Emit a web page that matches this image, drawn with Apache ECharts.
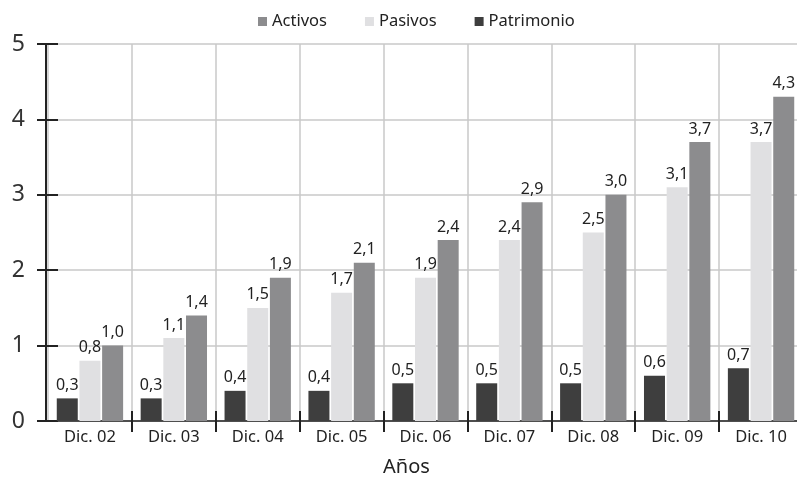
<!DOCTYPE html>
<html><head><meta charset="utf-8">
<script src="https://cdn.jsdelivr.net/npm/echarts@6/dist/echarts.min.js"></script>
<style>html,body{margin:0;padding:0;background:#fff}#c{width:797px;height:486px}</style>
</head><body><div id="c"></div>
<script>
const categories = ['Dic. 02','Dic. 03','Dic. 04','Dic. 05','Dic. 06','Dic. 07','Dic. 08','Dic. 09','Dic. 10'];
const patrimonio = [0.3,0.3,0.4,0.4,0.5,0.5,0.5,0.6,0.7];
const pasivos = [0.8,1.1,1.5,1.7,1.9,2.4,2.5,3.1,3.7];
const activos = [1.0,1.4,1.9,2.1,2.4,2.9,3.0,3.7,4.3];
const legendOrder = ['Activos','Pasivos','Patrimonio'];
const yTicks = [0,1,2,3,4,5];

const FONT = '"Noto Sans", sans-serif';
const chart = echarts.init(document.getElementById('c'), null, {renderer:'canvas'});
const fmt = p => p.value.toFixed(1).replace('.', ',');
const lbl = {show:true, position:'top', distance:5, formatter:fmt, color:'#222', fontSize:16, fontFamily:FONT};
function bar(name, data, color){
  return {name, type:'bar', data, barWidth:21, barGap:'8%', itemStyle:{color}, label:lbl, xAxisIndex:0, yAxisIndex:0};
}
const tickInt = (i) => i !== 0;
chart.setOption({
  animation:false,
  textStyle:{fontFamily:FONT},
  title:{text:'Años', left:383, top:457, padding:0, textStyle:{fontSize:20, fontWeight:'normal', color:'#222', fontFamily:FONT}},
  legend:{data:legendOrder, top:8, left:253, itemWidth:9, itemHeight:9, itemGap:38, icon:'rect',
    textStyle:{fontSize:16.5, color:'#222', fontFamily:FONT}},
  grid:{left:48, top:44, right:-6, bottom:65, containLabel:false, outerBoundsMode:'none'},
  xAxis:[{type:'category', data:categories, position:'bottom',
    axisLine:{show:true, lineStyle:{color:'#222', width:1.5}},
    axisTick:{show:true, inside:false, length:11, interval:tickInt, lineStyle:{color:'#222', width:2}},
    axisLabel:{fontSize:16.5, color:'#222', margin:8, interval:0, fontFamily:FONT},
    splitLine:{show:true, lineStyle:{color:'#c8c8c8', width:1.5}}},
   {type:'category', data:categories, position:'bottom',
    axisLine:{show:false}, axisTick:{show:true, inside:true, length:10, interval:tickInt, lineStyle:{color:'#222', width:2}},
    axisLabel:{show:false}, splitLine:{show:false}}],
  yAxis:[{type:'value', min:yTicks[0], max:yTicks[yTicks.length-1], interval:1, offset:2,
    axisLine:{show:true, lineStyle:{color:'#222', width:2}},
    axisTick:{show:true, inside:false, length:9, lineStyle:{color:'#222', width:2}},
    axisLabel:{fontSize:23, color:'#333', margin:21, fontFamily:FONT},
    splitLine:{show:true, lineStyle:{color:'#c8c8c8', width:1.5}}},
   {type:'value', min:yTicks[0], max:yTicks[yTicks.length-1], interval:1, position:'left', offset:2,
    axisLine:{show:false}, axisTick:{show:true, inside:true, length:12, lineStyle:{color:'#222', width:2}},
    axisLabel:{show:false}, splitLine:{show:false}}],
  series:[
    bar('Patrimonio', patrimonio, '#3e3e3e'),
    bar('Pasivos', pasivos, '#e0e0e2'),
    bar('Activos', activos, '#8c8c8e')
  ]
});
</script></body></html>
